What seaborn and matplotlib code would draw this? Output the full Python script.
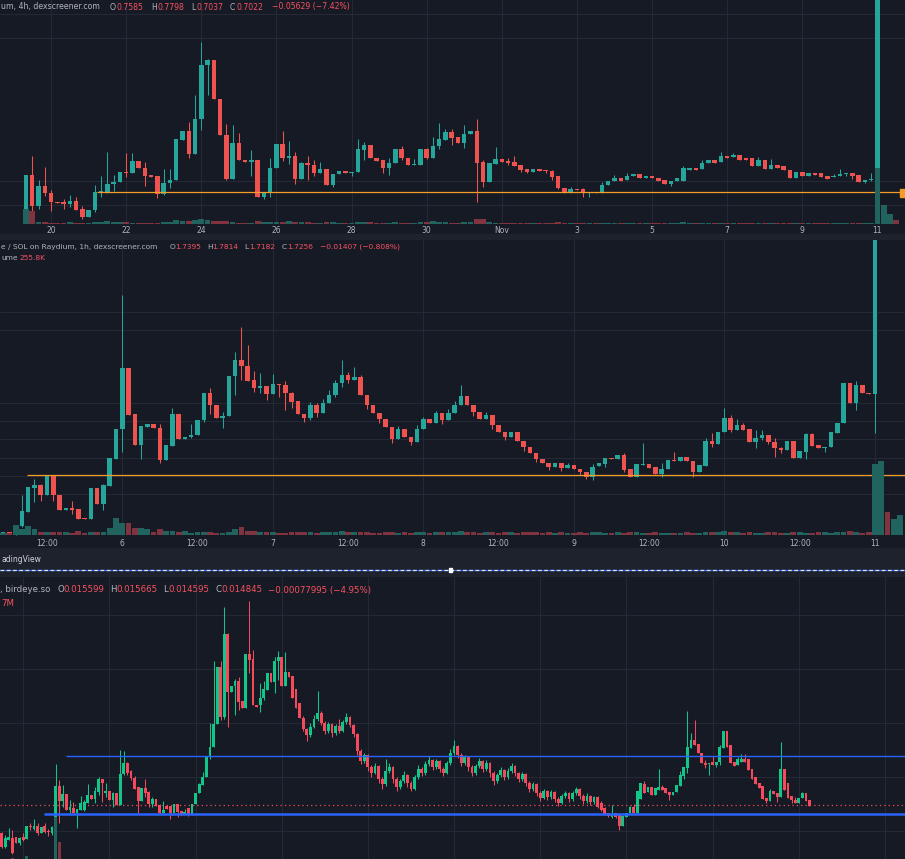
import numpy as np
import matplotlib
matplotlib.use("Agg")
import matplotlib.pyplot as plt
from matplotlib.patches import Rectangle
from matplotlib.lines import Line2D
import seaborn as sns

# ---- colours ----
BG = "#161a25"
BAND = "#1e222d"
GRID = "#252935"
TXT = "#b2b5be"
HDR_RED = "#f7525f"
UP, DOWN = "#26a69a", "#ef5350"
UP3, DOWN3 = "#12c589", "#f44a5c"
VOL_UP, VOL_DOWN = "#20635f", "#7f3440"
ORANGE = "#f39c27"
BLUE = "#2962ff"

# ---- panel 1 : 4h candles (arbitrary price units) ----
p1_open = [4, 49, 18, 38, 31, 22, 22, 20, 23, 15,
           7, 14, 31, 32, 40, 42, 52, 51, 63, 56,
           49, 48, 30, 41, 44, 84, 93, 70, 105, 159,
           164, 125, 89, 45, 81, 64, 62, 64, 27, 31,
           56, 80, 66, 68, 45, 61, 59, 51, 55, 39,
           50, 53, 51, 52, 74, 79, 66, 64, 56, 61,
           75, 66, 59, 59, 75, 66, 78, 84, 92, 87,
           81, 90, 93, 62, 42, 60, 65, 63, 62, 59,
           55, 52, 55, 54, 53, 48, 36, 31, 35, 35,
           31, 32, 32, 39, 43, 46, 44, 48, 50, 46,
           48, 46, 44, 40, 43, 43, 54, 56, 55, 61,
           64, 62, 68, 67, 69, 66, 66, 58, 64, 55,
           59, 58, 54, 46, 52, 48, 51, 51, 48, 47,
           48, 50, 51, 49, 42, 44, 45, 320, 400, 450]
p1_close = [49, 18, 38, 31, 22, 21, 20, 23, 14, 7,
            14, 32, 33, 40, 42, 52, 51, 63, 56, 48,
            47, 30, 41, 44, 85, 93, 70, 105, 159, 164,
            125, 89, 45, 81, 64, 62, 64, 27, 31, 56,
            80, 66, 68, 45, 61, 59, 51, 55, 39, 50,
            53, 51, 52, 75, 79, 66, 63, 56, 61, 75,
            66, 59, 60, 75, 66, 78, 85, 92, 86, 81,
            90, 93, 61, 42, 61, 65, 62, 61, 58, 54,
            52, 55, 53, 53, 47, 36, 31, 35, 34, 31,
            32, 31, 39, 43, 46, 43, 48, 50, 46, 48,
            46, 43, 40, 43, 46, 56, 56, 54, 61, 64,
            61, 68, 66, 69, 64, 64, 58, 64, 55, 59,
            56, 54, 46, 52, 48, 51, 49, 47, 45, 48,
            50, 51, 48, 42, 44, 45, 320, 400, 450, 420]
p1_high = [49, 68, 44, 57, 34, 22, 25, 29, 27, 18,
           14, 39, 48, 72, 49, 52, 71, 71, 63, 62,
           49, 48, 55, 55, 85, 93, 102, 129, 182, 165,
           164, 125, 100, 99, 91, 64, 74, 64, 31, 66,
           80, 93, 83, 72, 62, 68, 64, 62, 55, 50,
           53, 53, 52, 85, 82, 79, 66, 64, 66, 75,
           78, 66, 65, 75, 76, 87, 101, 95, 95, 87,
           99, 93, 105, 64, 61, 77, 65, 66, 68, 59,
           55, 55, 55, 54, 54, 48, 36, 37, 35, 36,
           32, 32, 42, 43, 49, 46, 51, 50, 50, 48,
           48, 46, 44, 43, 46, 58, 56, 56, 64, 64,
           64, 72, 68, 71, 69, 66, 66, 67, 64, 65,
           59, 58, 54, 52, 52, 51, 51, 51, 48, 50,
           55, 51, 51, 49, 44, 51, 330, 420, 470, 460]
p1_low = [4, 11, 15, 28, 13, 21, 15, 17, 14, 5,
          7, 12, 27, 31, 33, 42, 47, 51, 56, 38,
          47, 26, 29, 36, 44, 84, 66, 70, 94, 129,
          125, 89, 44, 45, 64, 62, 48, 27, 25, 27,
          56, 63, 60, 40, 45, 44, 48, 51, 39, 37,
          50, 51, 48, 52, 64, 66, 63, 51, 49, 61,
          64, 59, 59, 59, 65, 66, 75, 84, 79, 81,
          76, 90, 22, 37, 42, 60, 62, 59, 58, 52,
          51, 52, 53, 51, 44, 35, 31, 31, 34, 27,
          27, 31, 31, 39, 43, 43, 44, 48, 46, 46,
          46, 43, 40, 38, 43, 43, 54, 54, 55, 61,
          61, 62, 66, 67, 64, 64, 58, 58, 55, 55,
          56, 54, 46, 46, 48, 48, 49, 47, 45, 47,
          48, 48, 45, 42, 41, 43, 45, 300, 380, 410]
p1_volume = [15, 13, 2, 2, 1, 1, 1, 2, 1, 1, 1, 2, 2, 3, 2, 2, 2, 1, 1, 1,
             1, 1, 2, 2, 4, 3, 3, 4, 5, 4, 3, 3, 3, 2, 1, 1, 1, 3, 2, 2,
             2, 2, 3, 2, 2, 2, 1, 1, 2, 2, 1, 1, 1, 2, 2, 2, 1, 1, 1, 2,
             1, 1, 1, 2, 2, 3, 2, 2, 1, 1, 2, 2, 5, 5, 2, 1, 1, 1, 1, 1,
             1, 1, 1, 1, 1, 2, 1, 1, 1, 1, 1, 1, 1, 1, 1, 1, 1, 1, 1, 1,
             1, 1, 1, 1, 1, 2, 1, 1, 1, 1, 1, 1, 1, 1, 1, 1, 1, 1, 1, 1,
             1, 1, 1, 1, 1, 1, 1, 1, 1, 1, 1, 1, 1, 1, 1, 1, 56, 19, 10, 4]
p1_tick_pos = [4, 16, 28, 40, 52, 64, 76, 88, 100, 112, 124, 136]
p1_tick_labels = ["20", "22", "24", "26", "28", "30", "Nov", "3", "5", "7", "9", "11"]
p1_level = 32

# ---- panel 2 : 1h candles ----
p2_open = [4, 5, 2, 11, 25, 49, 52, 42, 61, 42,
           27, 29, 28, 19, 18, 49, 33, 51, 78, 108,
           169, 123, 92, 110, 113, 109, 77, 91, 123, 98,
           100, 102, 117, 144, 132, 119, 121, 161, 177, 171,
           157, 149, 151, 143, 153, 152, 144, 136, 123, 119,
           132, 124, 134, 142, 154, 162, 157, 160, 142, 132,
           124, 118, 110, 98, 108, 100, 95, 108, 118, 114,
           124, 117, 124, 132, 141, 132, 125, 118, 122, 112,
           105, 100, 105, 96, 90, 84, 78, 74, 70, 74,
           69, 72, 68, 65, 60, 71, 73, 79, 78, 82,
           68, 60, 72, 73, 70, 63, 68, 77, 76, 80,
           76, 65, 71, 96, 93, 105, 119, 107, 112, 108,
           95, 99, 102, 95, 89, 87, 96, 79, 85, 103,
           92, 89, 90, 104, 114, 154, 134, 152, 144, 143,
           400, 450, 430, 470]
p2_close = [5, 4, 12, 26, 50, 52, 42, 61, 42, 27,
            29, 27, 18, 18, 49, 33, 52, 79, 108, 169,
            122, 92, 111, 113, 109, 77, 92, 123, 98, 100,
            102, 117, 144, 132, 119, 121, 161, 177, 171, 156,
            149, 151, 143, 153, 152, 144, 135, 123, 119, 132,
            124, 134, 142, 154, 162, 157, 160, 142, 132, 124,
            118, 110, 98, 108, 100, 95, 108, 118, 114, 124,
            117, 124, 132, 141, 132, 125, 118, 122, 112, 105,
            100, 105, 96, 90, 84, 78, 74, 70, 74, 69,
            72, 68, 65, 60, 70, 74, 79, 78, 82, 67,
            60, 73, 73, 69, 63, 68, 77, 76, 80, 76,
            65, 72, 96, 93, 105, 119, 107, 112, 107, 95,
            99, 102, 95, 89, 87, 96, 79, 86, 103, 91,
            89, 90, 105, 114, 154, 134, 152, 144, 143, 400,
            450, 430, 470, 500]
p2_high = [5, 5, 12, 42, 50, 58, 53, 61, 62, 42,
           29, 36, 28, 19, 49, 49, 53, 79, 108, 242,
           169, 123, 111, 113, 113, 113, 92, 129, 123, 100,
           113, 117, 144, 149, 132, 125, 161, 185, 210, 192,
           166, 164, 151, 163, 153, 156, 145, 136, 123, 135,
           134, 138, 147, 157, 177, 165, 170, 162, 142, 132,
           124, 118, 110, 111, 108, 100, 112, 120, 118, 126,
           124, 128, 136, 152, 141, 132, 125, 125, 122, 112,
           105, 105, 105, 96, 90, 84, 78, 74, 74, 74,
           74, 72, 68, 65, 73, 74, 79, 79, 82, 84,
           68, 73, 94, 73, 70, 74, 77, 85, 80, 80,
           76, 72, 99, 104, 105, 129, 122, 118, 114, 108,
           107, 107, 102, 99, 90, 96, 96, 86, 104, 104,
           92, 90, 105, 114, 154, 154, 156, 152, 144, 420,
           470, 460, 480, 510]
p2_low = [4, 4, 2, 10, 25, 35, 36, 42, 36, 27,
          27, 23, 18, 18, 18, 33, 27, 51, 78, 85,
          122, 92, 78, 110, 109, 74, 77, 91, 98, 98,
          99, 102, 115, 123, 119, 109, 121, 142, 157, 156,
          145, 144, 137, 143, 140, 127, 129, 123, 115, 117,
          120, 124, 134, 140, 150, 154, 157, 142, 128, 124,
          114, 110, 94, 98, 100, 92, 95, 108, 114, 114,
          113, 117, 124, 132, 132, 121, 118, 118, 108, 105,
          97, 100, 96, 86, 84, 75, 74, 67, 70, 66,
          69, 68, 62, 58, 57, 71, 70, 78, 78, 65,
          60, 60, 72, 69, 63, 60, 68, 76, 76, 76,
          60, 65, 71, 90, 93, 105, 105, 107, 107, 95,
          89, 97, 93, 80, 84, 87, 79, 79, 78, 91,
          89, 85, 90, 104, 114, 134, 127, 144, 143, 104,
          390, 420, 425, 465]
p2_volume = [2, 2, 10, 6, 9, 6, 3, 3, 3, 3, 3, 2, 4, 2, 3, 3, 3, 7, 17, 12,
             12, 7, 7, 6, 3, 6, 4, 4, 3, 4, 2, 3, 3, 3, 2, 2, 3, 6, 8, 4,
             4, 3, 3, 3, 2, 2, 3, 3, 3, 3, 2, 3, 3, 3, 4, 3, 3, 3, 3, 2,
             2, 3, 3, 2, 3, 2, 3, 3, 2, 3, 3, 3, 3, 4, 3, 3, 2, 3, 3, 2,
             3, 3, 2, 3, 3, 3, 2, 3, 2, 3, 2, 2, 3, 2, 3, 3, 2, 2, 3, 2,
             3, 3, 2, 2, 3, 2, 2, 2, 2, 3, 2, 2, 3, 3, 3, 4, 3, 3, 2, 3,
             2, 2, 3, 3, 2, 2, 3, 3, 2, 2, 3, 3, 2, 3, 3, 4, 3, 2, 3, 71,
             74, 23, 16, 20]
p2_tick_pos = [7, 19, 31, 43, 55, 67, 79, 91, 103, 115, 127, 139]
p2_tick_labels = ["12:00", "6", "12:00", "7", "12:00", "8",
                  "12:00", "9", "12:00", "10", "12:00", "11"]
p2_day_pos = [19, 43, 67, 91, 115, 139]
p2_level = 62

# ---- panel 3 : birdeye 5m candles ----
p3_open = [26, 12, 19, 21, 22, 16, 22, 20, 33, 30,
           33, 26, 33, 28, 26, 32, 73, 58, 65, 49,
           51, 46, 49, 49, 56, 64, 60, 67, 80, 66,
           68, 59, 66, 54, 85, 96, 88, 81, 72, 58,
           71, 67, 55, 60, 54, 46, 53, 53, 46, 55,
           48, 45, 51, 44, 55, 66, 74, 82, 102, 112,
           135, 192, 142, 225, 167, 173, 178, 158, 151, 205,
           200, 154, 154, 161, 169, 186, 177, 198, 202, 173,
           187, 183, 170, 156, 141, 130, 124, 132, 140, 146,
           136, 128, 135, 126, 133, 128, 137, 142, 134, 125,
           108, 98, 104, 92, 86, 93, 80, 75, 88, 92,
           80, 72, 78, 84, 76, 70, 82, 90, 86, 95,
           99, 92, 98, 90, 86, 96, 106, 113, 104, 96,
           102, 92, 86, 93, 98, 90, 96, 86, 78, 84,
           89, 82, 88, 93, 86, 80, 85, 76, 70, 75,
           66, 61, 68, 62, 67, 60, 56, 63, 66, 60,
           66, 70, 63, 58, 63, 57, 62, 56, 51, 46,
           42, 46, 44, 33, 42, 46, 52, 46, 60, 75,
           67, 72, 64, 69, 72, 71, 67, 64, 67, 73,
           83, 91, 111, 119, 115, 106, 96, 95, 97, 94,
           97, 111, 128, 114, 97, 94, 97, 100, 100, 90,
           82, 76, 73, 61, 58, 68, 66, 62, 90, 76,
           63, 59, 56, 61, 66, 59]
p3_close = [12, 21, 22, 6, 16, 21, 19, 33, 32, 33,
            26, 32, 27, 27, 32, 73, 58, 65, 49, 52,
            46, 50, 56, 57, 64, 60, 68, 80, 76, 68,
            59, 66, 54, 85, 96, 86, 81, 70, 58, 71,
            66, 55, 60, 53, 46, 49, 50, 46, 55, 47,
            45, 47, 44, 55, 66, 75, 82, 102, 112, 135,
            192, 142, 225, 167, 173, 178, 157, 151, 205, 199,
            154, 152, 161, 170, 186, 177, 198, 202, 173, 187,
            182, 161, 151, 141, 130, 124, 132, 140, 146, 136,
            128, 135, 126, 133, 128, 137, 142, 134, 125, 108,
            98, 104, 92, 86, 93, 80, 75, 88, 92, 80,
            72, 78, 84, 76, 70, 82, 90, 86, 95, 99,
            92, 98, 90, 86, 96, 106, 113, 104, 96, 102,
            92, 86, 93, 98, 90, 96, 86, 78, 84, 89,
            82, 88, 93, 86, 80, 85, 76, 70, 75, 66,
            61, 68, 62, 67, 60, 56, 63, 66, 60, 66,
            70, 63, 58, 63, 57, 62, 52, 49, 45, 43,
            45, 42, 33, 43, 46, 52, 46, 68, 76, 66,
            72, 64, 71, 72, 69, 66, 64, 67, 74, 84,
            92, 112, 119, 114, 106, 96, 94, 96, 94, 97,
            112, 128, 112, 96, 93, 100, 100, 97, 89, 80,
            75, 71, 60, 58, 68, 65, 62, 90, 69, 61,
            59, 56, 61, 66, 58, 53]
p3_high = [27, 24, 31, 29, 22, 22, 26, 33, 36, 40,
           36, 32, 36, 30, 33, 95, 79, 74, 65, 59,
           57, 50, 63, 59, 75, 64, 72, 82, 80, 76,
           68, 67, 66, 109, 108, 97, 89, 83, 72, 71,
           80, 68, 62, 60, 55, 58, 53, 53, 55, 55,
           48, 50, 51, 55, 66, 76, 87, 102, 136, 198,
           192, 198, 252, 226, 173, 180, 182, 158, 205, 258,
           209, 154, 176, 178, 186, 186, 202, 208, 202, 207,
           187, 183, 170, 156, 143, 131, 136, 144, 168, 148,
           138, 137, 136, 135, 140, 139, 146, 143, 135, 126,
           110, 106, 105, 94, 96, 94, 82, 100, 96, 93,
           82, 80, 88, 85, 78, 84, 94, 92, 98, 103,
           100, 100, 99, 92, 98, 110, 119, 114, 106, 104,
           103, 94, 95, 101, 99, 99, 97, 88, 86, 92,
           90, 91, 96, 94, 87, 87, 86, 78, 77, 76,
           68, 70, 69, 69, 68, 62, 65, 68, 67, 68,
           72, 71, 65, 66, 64, 63, 63, 58, 52, 46,
           54, 46, 44, 43, 46, 53, 55, 68, 76, 78,
           72, 72, 71, 90, 74, 71, 67, 67, 74, 88,
           92, 148, 126, 139, 115, 106, 99, 96, 103, 97,
           114, 128, 128, 114, 97, 102, 105, 105, 100, 90,
           82, 76, 73, 61, 70, 68, 66, 117, 90, 76,
           63, 62, 61, 67, 66, 59]
p3_low = [11, 11, 19, 5, 16, 14, 18, 20, 29, 29,
          24, 26, 26, 23, 24, 20, 36, 52, 49, 46,
          46, 31, 49, 48, 56, 60, 56, 64, 57, 62,
          59, 52, 54, 54, 84, 84, 79, 70, 46, 58,
          62, 52, 52, 53, 45, 46, 50, 40, 46, 42,
          44, 45, 43, 44, 55, 66, 74, 82, 100, 112,
          135, 139, 140, 132, 167, 144, 149, 151, 151, 186,
          154, 152, 147, 159, 169, 177, 166, 179, 173, 173,
          182, 161, 151, 141, 128, 118, 122, 131, 138, 134,
          125, 126, 122, 124, 126, 127, 135, 132, 122, 104,
          95, 96, 88, 82, 85, 76, 70, 73, 86, 76,
          68, 70, 76, 72, 68, 69, 80, 83, 84, 93,
          89, 90, 87, 83, 85, 94, 104, 101, 93, 94,
          88, 83, 84, 91, 87, 88, 82, 74, 76, 82,
          79, 80, 86, 83, 77, 78, 73, 67, 68, 63,
          58, 60, 59, 60, 57, 53, 55, 61, 57, 58,
          64, 60, 55, 56, 54, 55, 51, 48, 44, 42,
          41, 41, 29, 33, 42, 46, 46, 46, 60, 66,
          67, 64, 64, 69, 69, 66, 59, 64, 67, 73,
          80, 86, 111, 114, 106, 96, 91, 84, 94, 92,
          94, 111, 112, 96, 93, 94, 97, 97, 89, 80,
          75, 71, 60, 56, 58, 65, 57, 62, 69, 61,
          56, 56, 56, 61, 58, 53]
p3_volume = [12, 9, 8, 21, 10, 7, 8, 23, 9, 8, 10, 7, 9, 8, 11, 62, 37, 14, 12, 10,
             9, 10, 8, 9, 11, 8, 10, 12, 11, 9, 8, 10, 9, 15, 13, 11, 9, 10, 12, 9,
             10, 11, 8, 9, 10, 7, 8, 9, 10, 9, 7, 8, 9, 10, 12, 13, 12, 14, 16, 18,
             19, 17, 19, 18, 12, 11, 13, 10, 15, 16, 14, 9, 11, 10, 12, 10, 13, 11, 12, 11,
             9, 12, 11, 10, 9, 8, 9, 10, 11, 9, 8, 9, 8, 9, 8, 9, 10, 9, 10, 12,
             11, 9, 10, 9, 8, 10, 9, 11, 9, 10, 9, 8, 9, 10, 8, 9, 10, 9, 10, 9,
             8, 9, 8, 9, 10, 11, 12, 10, 9, 8, 9, 8, 9, 8, 9, 8, 9, 8, 9, 8,
             8, 9, 8, 8, 9, 8, 9, 8, 7, 9, 8, 7, 8, 7, 8, 9, 8, 7, 8, 9,
             8, 9, 8, 7, 8, 7, 9, 8, 9, 8, 9, 8, 10, 9, 8, 9, 8, 11, 12, 10,
             9, 8, 9, 11, 8, 9, 8, 9, 10, 11, 12, 16, 14, 13, 11, 10, 9, 8, 9, 10,
             12, 13, 12, 11, 9, 9, 8, 9, 10, 10, 9, 9, 10, 9, 10, 9, 9, 15, 13, 11,
             9, 8, 8, 9, 9, 10]
p3_grid_x = [6, 30, 54, 78, 102, 126, 150, 174, 198, 222, 246]
p3_grid_y = [28, 82, 136, 190, 244]
p3_resist, p3_support, p3_last = 103, 45, 54

W, H = 905, 859

sns.set_theme(style="dark", rc={"axes.facecolor": BG, "figure.facecolor": BG,
                                "axes.edgecolor": BG})
plt.rcParams["font.family"] = ["DejaVu Sans"]

fig = plt.figure(figsize=(W / 100, H / 100), dpi=100, facecolor=BG)


def px_axes(top, bottom):
    return fig.add_axes([0, 1 - bottom / H, 1, (bottom - top) / H])


def candles(ax, o, h, l, c, up, down, width):
    o, h, l, c = (np.asarray(a, float) for a in (o, h, l, c))
    x = np.arange(len(o))
    rising = c >= o
    cols = np.where(rising, up, down)
    ax.vlines(x, np.minimum(l, np.minimum(o, c)), np.maximum(h, np.maximum(o, c)),
              colors=cols, linewidth=0.75, zorder=3)
    ax.bar(x, np.maximum(np.abs(c - o), 1.0), width, bottom=np.minimum(o, c),
           color=cols, linewidth=0, zorder=4)
    return rising


def volume(ax, vol, rising, width, ylim):
    vax = ax.twinx()
    cols = np.where(rising, VOL_UP, VOL_DOWN)
    vax.bar(np.arange(len(vol)), vol, width, color=cols, linewidth=0, zorder=2)
    vax.set_ylim(*ylim)
    vax.set_yticks([])
    vax.grid(False)
    for s in vax.spines.values():
        s.set_visible(False)
    return vax


def style(ax, xlim, ylim, yticks):
    ax.set_xlim(*xlim)
    ax.set_ylim(*ylim)
    ax.set_yticks(yticks)
    ax.tick_params(labelleft=False, length=0, pad=1.5, labelsize=5.5, labelcolor=TXT)
    ax.grid(True, axis="y", color=GRID, linewidth=0.8)
    for s in ax.spines.values():
        s.set_visible(False)


# bands between panels
fig.add_artist(Rectangle((0, 1 - 240 / H), 1, 6 / H, transform=fig.transFigure,
                         color=BAND, zorder=0))
fig.add_artist(Rectangle((0, 1 - 577 / H), 1, 29 / H, transform=fig.transFigure,
                         color=BAND, zorder=0))

# ---- panel 1 ----
ax1 = px_axes(0, 224)
style(ax1, (-4.15, 140.4), (0, 224), [19, 43, 186, 210])
ax1.set_xticks(p1_tick_pos)
ax1.set_xticklabels(p1_tick_labels)
ax1.grid(True, axis="x", color=GRID, linewidth=0.8)
r1 = candles(ax1, p1_open, p1_high, p1_low, p1_close, UP, DOWN, 0.72)
ax1.hlines(p1_level, 11.3, 141, color=ORANGE, linewidth=0.9, zorder=5)
volume(ax1, p1_volume, r1, 0.92, (0, 224))

# ---- panel 2 ----
ax2 = px_axes(240, 537)
style(ax2, (-0.49, 143.8), (0, 297), [43, 61, 79, 98, 116, 134, 207, 225])
ax2.set_xticks(p2_tick_pos)
ax2.set_xticklabels(p2_tick_labels)
for d in p2_day_pos:
    ax2.axvline(d, color=GRID, linewidth=0.8, zorder=1)
r2 = candles(ax2, p2_open, p2_high, p2_low, p2_close, UP, DOWN, 0.72)
ax2.hlines(p2_level, 3.8, 145, color=ORANGE, linewidth=0.9, zorder=5)
volume(ax2, p2_volume, r2, 0.92, (-2, 295))

# ---- panel 3 ----
ax3 = px_axes(577, 859)
style(ax3, (-0.47, 251.6), (0, 282), p3_grid_y)
ax3.set_xticks(p3_grid_x)
ax3.tick_params(labelbottom=False)
ax3.grid(True, axis="x", color=GRID, linewidth=0.8)
r3 = candles(ax3, p3_open, p3_high, p3_low, p3_close, UP3, DOWN3, 0.78)
ax3.axhline(p3_last, color=DOWN3, linewidth=0.9, linestyle=(0, (1, 2.5)), zorder=2)
ax3.hlines(p3_resist, 17.9, 253, color=BLUE, linewidth=1.0, zorder=5)
ax3.hlines(p3_support, 11.8, 253, color=BLUE, linewidth=1.8, zorder=5)
# volume pane of this chart sits mostly below the visible area
volume(ax3, p3_volume, r3, 0.8, (20, 302))


# ---- header texts ----
def ftext(x, y, s, color=TXT, size=5.6, ha="left"):
    fig.text(x / W, 1 - y / H, s, color=color, fontsize=size, ha=ha, va="center")


def ohlc(y, xs, vals, change, size):
    for (xl, xv), letter, v in zip(xs, "OHLC", vals):
        ftext(xl, y, letter, TXT, size)
        ftext(xv, y, v, HDR_RED, size)
    ftext(change[0], y, change[1], HDR_RED, size)


ftext(1, 7, "um, 4h, dexscreener.com")
ohlc(7, [(110, 116), (151, 157), (191, 196), (230, 236)],
     ["0.7585", "0.7798", "0.7037", "0.7022"], (272, "\u22120.05629 (\u22127.42%)"), 5.6)

ftext(1, 247, "e / SOL on Raydium, 1h, dexscreener.com", size=5.4)
ohlc(247, [(170, 175), (207, 212), (244, 249), (282, 287)],
     ["1.7395", "1.7814", "1.7182", "1.7256"], (320, "\u22120.01407 (\u22120.808%)"), 5.4)
ftext(1, 258, "ume", size=5.4)
ftext(19, 258, "255.8K", HDR_RED, 5.4)

ftext(0, 590, ", birdeye.so", size=6.2)
ohlc(590, [(57, 63), (110, 116), (163, 168), (215, 221)],
     ["0.015599", "0.015665", "0.014595", "0.014845"],
     (268, "\u22120.00077995 (\u22124.95%)"), 6.2)
ftext(1, 604, "7M", HDR_RED, 6.2)

# right-edge price marker of panel 1
fig.add_artist(Rectangle((900 / W, 1 - 197 / H), 5 / W, 8 / H,
                         transform=fig.transFigure, color=ORANGE, zorder=6))

# TradingView strip
ftext(1, 560, "adingView", "#d1d4dc", 5.5)
yl = 1 - 570 / H
fig.add_artist(Line2D([0, 1], [yl, yl], transform=fig.transFigure, color=BLUE,
                      linewidth=0.9, zorder=5))
fig.add_artist(Line2D([0, 1], [yl, yl], transform=fig.transFigure, color="#e0e3eb",
                      linewidth=0.9, dashes=(3, 2), zorder=6))
fig.add_artist(Rectangle((449 / W, 1 - 572 / H), 3 / W, 4 / H,
                         transform=fig.transFigure, color="white", zorder=7))

fig.savefig("out.png", dpi=100, facecolor=BG)
